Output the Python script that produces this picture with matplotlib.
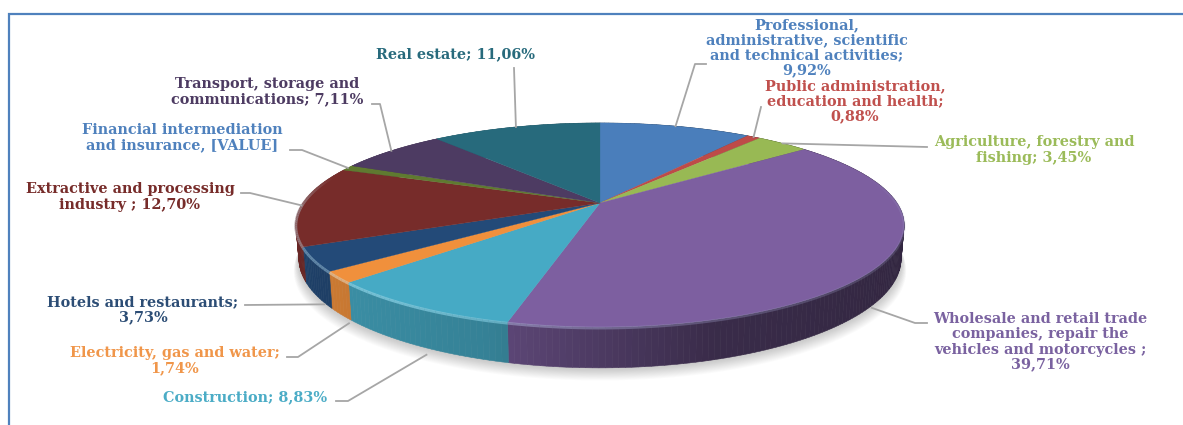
import numpy as np
import matplotlib
matplotlib.use('Agg')
import matplotlib.pyplot as plt
from matplotlib.collections import PolyCollection, LineCollection
from matplotlib.colors import to_rgb

sectors = ['Professional', 'Public', 'Agriculture', 'Wholesale', 'Construction',
           'Electricity', 'Hotels', 'Extractive', 'Financial', 'Transport', 'Real estate']
shares = [9.92, 0.88, 3.45, 39.71, 8.83, 1.74, 3.73, 12.70, 0.87, 7.11, 11.06]
face_colors = ['#4a7ebb', '#be4b48', '#98b954', '#7d5fa0', '#46aac5', '#f0903c',
               '#234a78', '#772c2a', '#5f7a30', '#4d3b62', '#276a7c']
text_colors = ['#4f81bd', '#c0504d', '#9bbb59', '#7a62a0', '#4bacc6', '#f0964a',
               '#2c4d75', '#772c2a', '#4f81bd', '#4d3b62', '#276a7c']
labels = ['Professional,\nadministrative, scientific\nand technical activities;\n9,92%',
          'Public administration,\neducation and health;\n0,88%',
          'Agriculture, forestry and\nfishing; 3,45%',
          'Wholesale and retail trade\ncompanies, repair the\nvehicles and motorcycles ;\n39,71%',
          'Construction; 8,83%',
          'Electricity, gas and water;\n1,74%',
          'Hotels and restaurants;\n3,73%',
          'Extractive and processing\nindustry ; 12,70%',
          'Financial intermediation\nand insurance, [VALUE]',
          'Transport, storage and\ncommunications; 7,11%',
          'Real estate; 11,06%']
label_xy = [(807, 48), (855, 101), (1034, 150), (1040, 342), (245, 397), (175, 361),
            (143, 310), (130, 197), (182, 138), (267, 92), (456, 54)]
# leader routes after leaving the slice, last point touches the label
leader_paths = [[(695, 64), (706, 64)], [(761, 107)], [(927, 147)], [(915, 323), (927, 323)],
                [(348, 401), (336, 401)], [(298, 357), (287, 357)], [(245, 305)],
                [(250, 193), (241, 193)], [(302, 150), (290, 150)], [(380, 104), (372, 104)],
                [(514, 68)]]
on_wall = [False, False, False, True, True, True, True, False, False, False, False]

CX, CY = 600, 203
AX_R, BY_R, PERSP = 297.0, 97.3, 0.2157
DEPTH, BASE_SCALE = 32.0, 0.99


def project(theta, base=False):
    # perspective view of the disc, theta runs clockwise from the far edge
    u, v = np.sin(theta), np.cos(theta)
    w = 1 + PERSP * v
    if base:
        return CX + BASE_SCALE * AX_R * u / w, CY - BY_R * v / w + DEPTH / w
    return CX + AX_R * u / w, CY - BY_R * v / w


def wall_shade(theta):
    return np.interp(np.sin(theta), [-1, -0.3, 0.3, 1], [0.88, 0.76, 0.46, 0.40])


fig = plt.figure(figsize=(11.83, 4.25), dpi=100)
ax = fig.add_axes([0, 0, 1, 1])
ax.set_xlim(0, 1183)
ax.set_ylim(425, 0)
ax.axis('off')

# frame, open at the bottom
ax.plot([9.5, 9.5, 1183], [425, 14, 14], color='#4f81bd', lw=1.6, solid_joinstyle='miter', zorder=1)

fractions = np.array(shares) / sum(shares)
edges = np.concatenate([[0], np.cumsum(fractions)]) * 2 * np.pi

# soft shadow under the base
ring = np.linspace(0, 2 * np.pi, 361)
bx, by = project(ring, base=True)
for i in range(1, 15):
    ax.fill(CX + (bx - CX) * (1 + i * 0.0012), by + i * 0.9, color='#555555', alpha=0.022, lw=0, zorder=2)

# side wall, shaded along the rim
for start, stop, col in zip(edges[:-1], edges[1:], face_colors):
    n = max(int(np.degrees(stop - start)), 2)
    t = np.linspace(start, stop, n + 1)
    tx, ty = project(t)
    wx, wy = project(t, base=True)
    quads = [[(tx[i], ty[i]), (tx[i + 1], ty[i + 1]), (wx[i + 1], wy[i + 1]), (wx[i], wy[i])] for i in range(n)]
    base = np.array(to_rgb(col))
    shade = wall_shade((t[:-1] + t[1:]) / 2)
    cols = [tuple(base * s) for s in shade]
    ax.add_collection(PolyCollection(quads, facecolors=cols, edgecolors=cols, linewidths=0.4, zorder=3))

# top faces
for start, stop, col in zip(edges[:-1], edges[1:], face_colors):
    t = np.linspace(start, stop, max(int(np.degrees(stop - start)), 2) + 1)
    tx, ty = project(t)
    ax.fill(np.r_[CX, tx], np.r_[CY, ty], color=col, lw=0.2, zorder=4)

# light bevel along the near edge, strongest on the left
for start, stop, col in zip(edges[:-1], edges[1:], face_colors):
    t = np.linspace(start, stop, max(int(np.degrees(stop - start)), 2) + 1)
    tx, ty = project(t)
    mid = (t[:-1] + t[1:]) / 2
    near = np.clip(-np.cos(mid) * 3 + 0.9, 0, 1) * np.interp(np.sin(mid), [-0.6, 0.2, 1], [0.8, 0.35, 0.2])
    light = 0.55 * np.array(to_rgb(col)) + 0.45 * np.array([0.8, 0.95, 1.0])
    segs = [[(tx[i], ty[i] + 1), (tx[i + 1], ty[i + 1] + 1)] for i in range(len(mid))]
    rgba = [(*light, a) for a in near]
    ax.add_collection(LineCollection(segs, colors=rgba, linewidths=2.0, zorder=5))

# leaders and labels
for k, name in enumerate(sectors):
    mid = (edges[k] + edges[k + 1]) / 2
    x0, y0 = project(mid, base=on_wall[k])
    if on_wall[k]:
        # leaders on the near side stop just under the wall
        x0 -= 8 * np.sign(np.sin(mid))
        y0 += 9
    pts = [(x0, y0)] + leader_paths[k]
    ax.plot(*zip(*pts), color='#a6a6a6', lw=1.3, solid_joinstyle='round', zorder=6)
    ax.text(label_xy[k][0], label_xy[k][1], labels[k], color=text_colors[k], ha='center', va='center',
            multialignment='center', family='DejaVu Serif', weight='bold', fontsize=10.4,
            linespacing=1.1, zorder=7)

fig.savefig('out.png', dpi=100)
